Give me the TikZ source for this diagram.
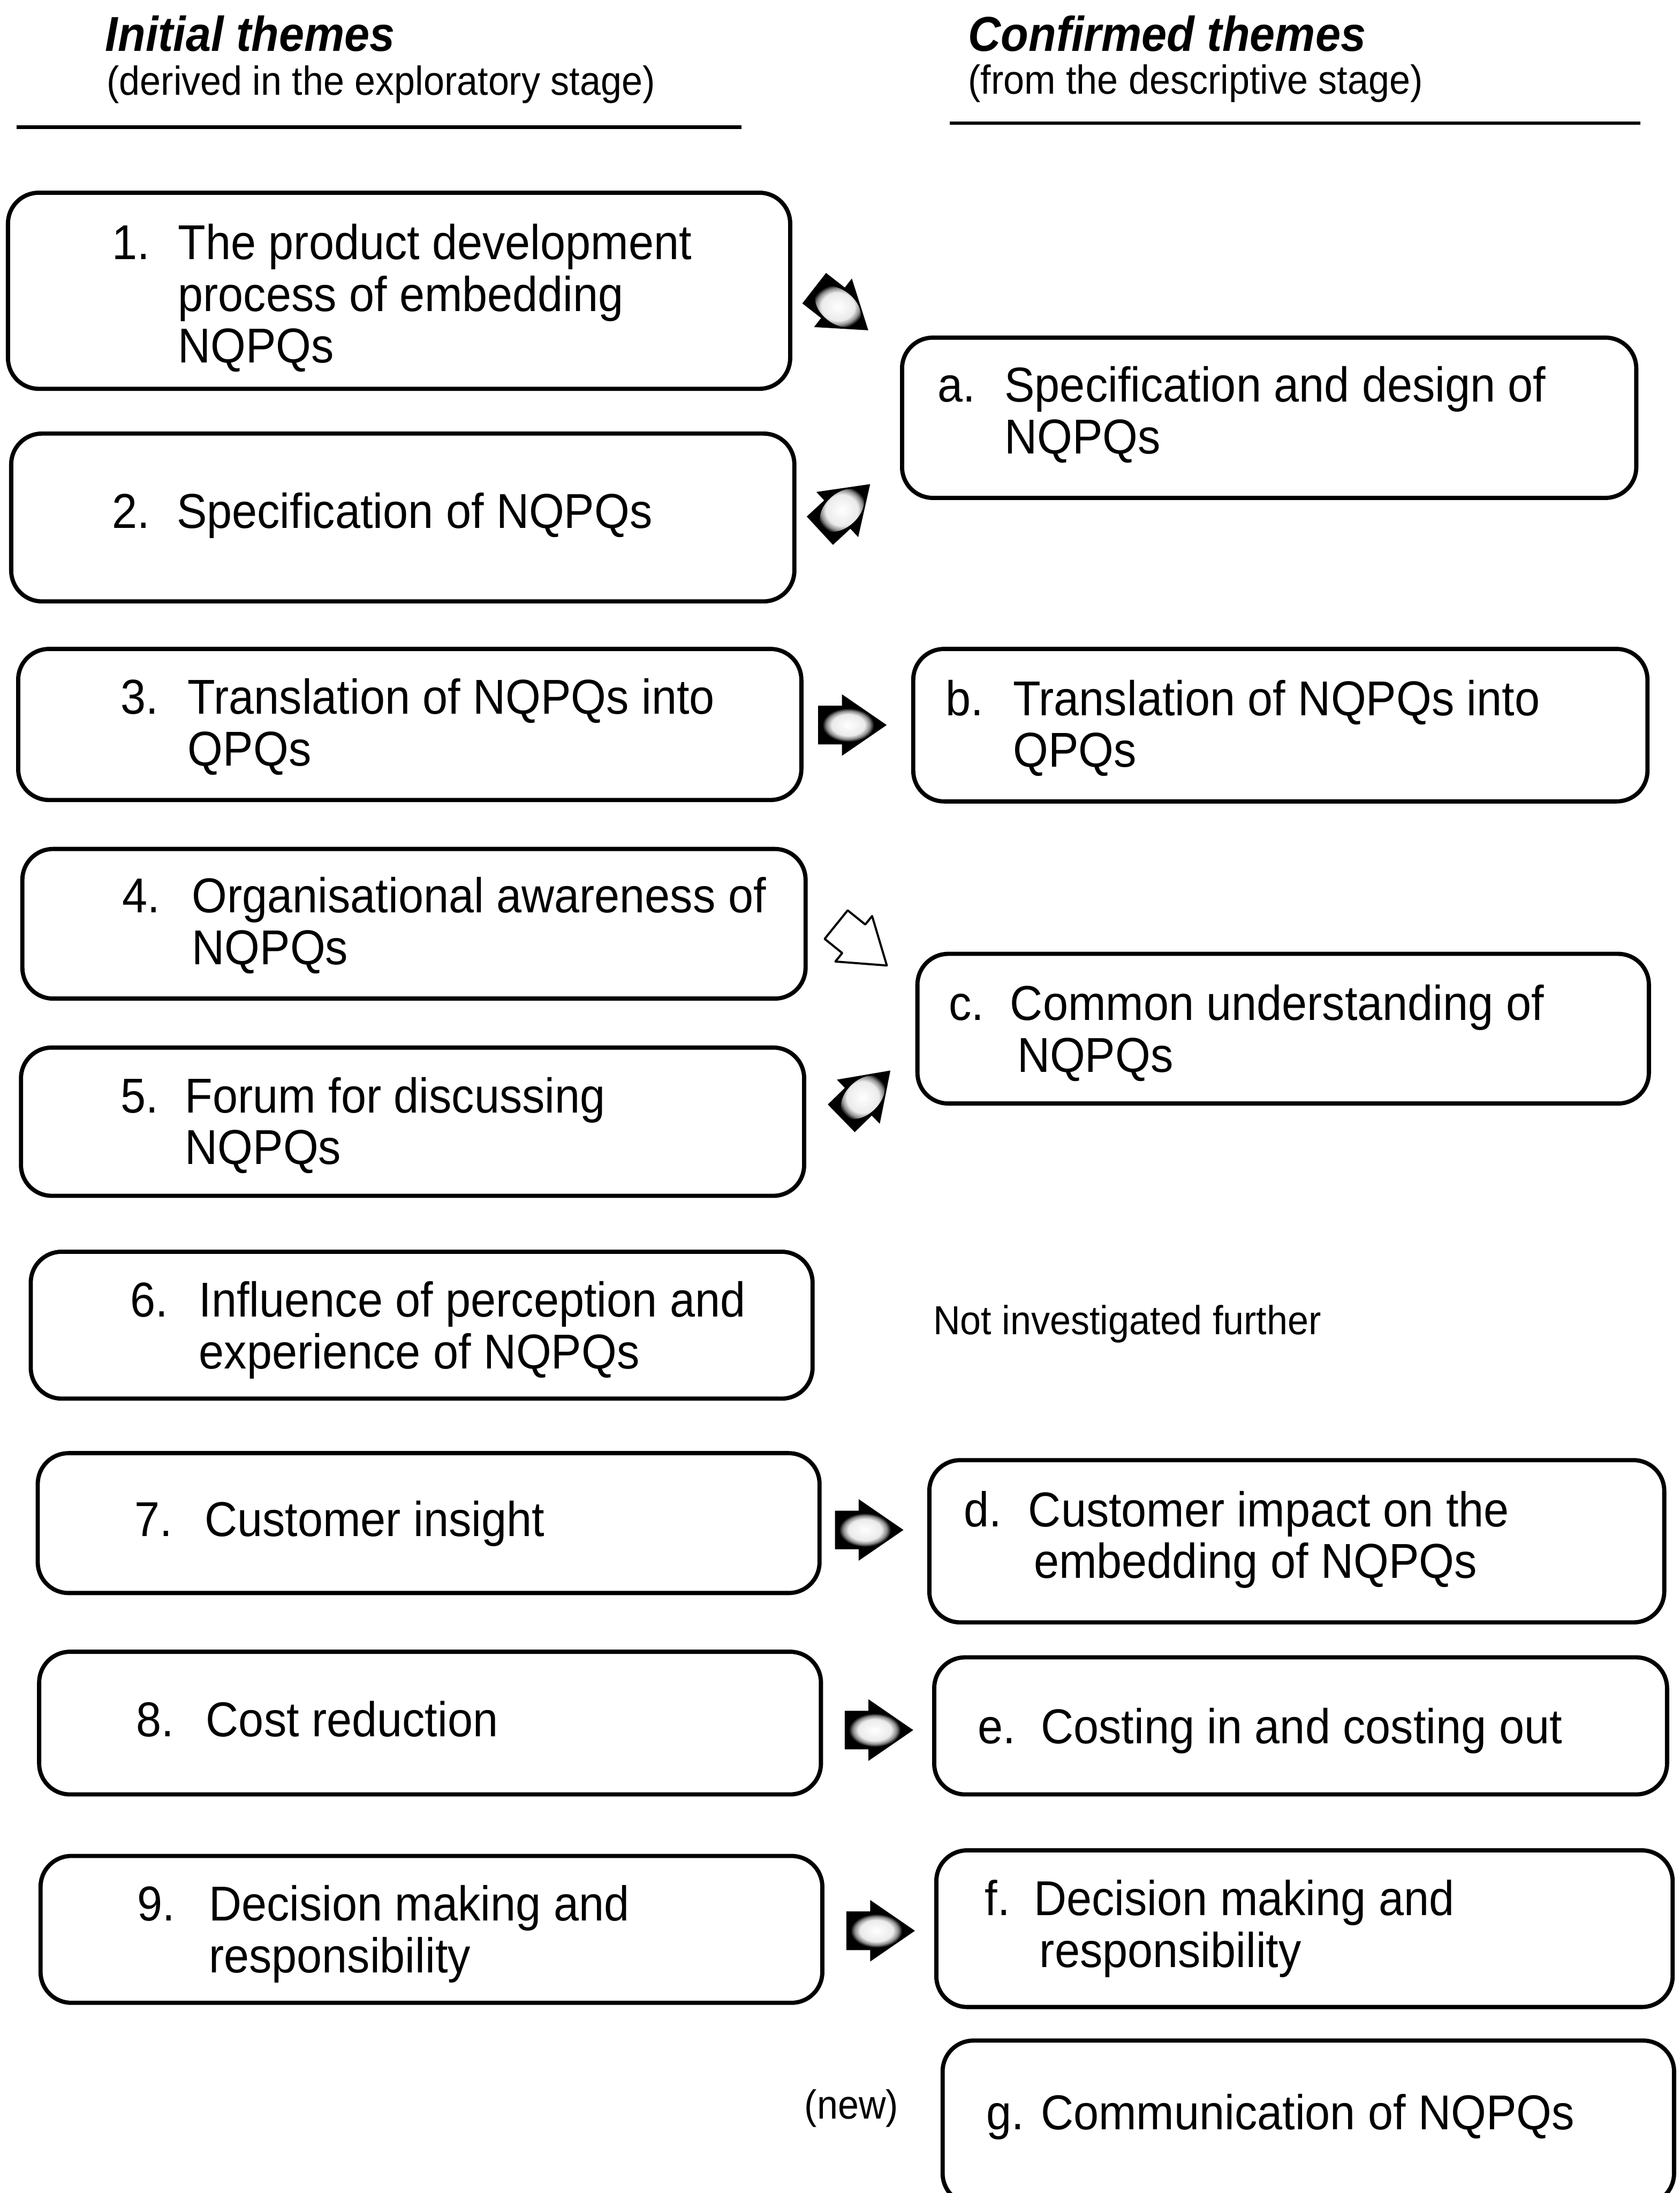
\documentclass[tikz,border=0pt]{standalone}
\usepackage{fontspec}
\setmainfont{Liberation Sans}[FakeStretch=0.925]
\usetikzlibrary{calc}

% light core fading into black, used inside the block arrows
% (the middle 50bp of a shading fills the shaded path)
\pgfdeclareradialshading{arrowglow}{\pgfpoint{0bp}{0bp}}{color(0bp)=(white); color(16bp)=(black!8); color(21bp)=(black!45); color(25bp)=(black); color(50bp)=(black)}

% rounded theme box given by its outline corners (x1,y1) (x2,y2)
\newcommand\themebox[5]{\node[tbox, minimum width={(#4-#2)*0.2mm}, minimum height={(#5-#3)*0.2mm}] (#1) at ({(#2+#4)/2},{(#3+#5)/2}) {};}
% several lines of text hanging from the first baseline
\newcommand\tlines[1]{\begin{tabular}[t]{@{}l@{}}#1\end{tabular}}

\tikzset{
  tbox/.style={draw=black, line width=0.6mm, rounded corners=4.4mm, inner sep=0pt},
  txt/.style={anchor=base west, inner sep=0pt, font=\fontsize{19.92pt}{21.06pt}\selectfont},
  note/.style={anchor=base west, inner sep=0pt, font=\fontsize{16.5pt}{19pt}\selectfont},
  head/.style={anchor=base west, inner sep=0pt, font=\fontsize{19.92pt}{21pt}\selectfont\bfseries\itshape},
  rule/.style={line width=0.5mm},
  arrowoutline/.style={insert path={(-24.5,-13.8) -- (-7.5,-13.8) -- (-7.5,-22) -- (24.5,0)
      -- (-7.5,22) -- (-7.5,13.8) -- (-24.5,13.8) -- cycle}},
  % dark block arrow with a pale core
  pics/blockarrow/.style={code={
    \fill[black, line join=round] [arrowoutline];
    \shade[shading=arrowglow] (-3,0) ellipse [x radius=18.5, y radius=12];}},
  % open block arrow drawn by its outline only
  pics/hollowarrow/.style={code={
    \filldraw[fill=white, draw=black, line width=0.3mm, line join=round] [arrowoutline];}},
}

\begin{document}
\begin{tikzpicture}[x=0.2mm, y=-0.2mm]
\useasboundingbox (0,0) rectangle (1201,1568);
\fill[white] (0,0) rectangle (1201,1568);
\clip (0,0) rectangle (1201,1568);

% column headings
\node[head] (hl) at (75,36.5) {Initial themes};
\node[note] (hls) at (76,68) {(derived in the exploratory stage)};
\draw[rule] (12,91) -- (530,91);
\node[head] (hr) at (692,36.5) {Confirmed themes};
\node[note] (hrs) at (692,67) {(from the descriptive stage)};
\draw[rule] (679,88) -- (1173,88);

% initial themes
\themebox{b1}{5.7}{137.8}{565}{278}
\themebox{b2}{8}{310}{568}{430}
\themebox{b3}{13}{464}{573}{572}
\themebox{b4}{16}{607}{576}{714}
\themebox{b5}{15}{749}{575}{855}
\themebox{b6}{22}{895}{581}{1000}
\themebox{b7}{27}{1039}{586}{1139}
\themebox{b8}{28}{1181}{587}{1283}
\themebox{b9}{29}{1327}{588}{1432}

\node[txt] (n1) at (80,185.5) {1.};
\node[txt] (t1) at (127,185.5) {\tlines{The product development\\process of embedding\\NQPQs}};
\node[txt] (n2) at (80,377.5) {2.};
\node[txt] (t2) at (126,377.5) {Specification of NQPQs};
\node[txt] (n3) at (86,510.5) {3.};
\node[txt] (t3) at (134,510.5) {\tlines{Translation of NQPQs into\\QPQs}};
\node[txt] (n4) at (87,652.5) {4.};
\node[txt] (t4) at (137,652.5) {\tlines{Organisational awareness of\\NQPQs}};
\node[txt] (n5) at (86,795.5) {5.};
\node[txt] (t5) at (132,795.5) {\tlines{Forum for discussing\\NQPQs}};
\node[txt] (n6) at (93,941.5) {6.};
\node[txt] (t6) at (142,941.5) {\tlines{Influence of perception and\\experience of NQPQs}};
\node[txt] (n7) at (96,1098.5) {7.};
\node[txt] (t7) at (146,1098.5) {Customer insight};
\node[txt] (n8) at (97,1241.5) {8.};
\node[txt] (t8) at (147,1241.5) {Cost reduction};
\node[txt] (n9) at (98,1373.5) {9.};
\node[txt] (t9) at (149,1373.5) {\tlines{Decision making and\\responsibility}};

% confirmed themes
\themebox{ba}{645}{241.4}{1170}{356}
\themebox{bb}{653}{464}{1178}{573}
\themebox{bc}{656}{682}{1179}{789}
\themebox{bd}{664.5}{1044}{1190}{1160}
\themebox{be}{668}{1185}{1192}{1283}
\themebox{bf}{669.5}{1323}{1196}{1435}
\themebox{bg}{674}{1459}{1197}{1576}

\node[txt] (na) at (670,287.4) {a.};
\node[txt] (ta) at (718,287.4) {\tlines{Specification and design of\\NQPQs}};
\node[txt] (nb) at (676,511.5) {b.};
\node[txt] (tb) at (724,511.5) {\tlines{Translation of NQPQs into\\QPQs}};
\node[txt] (nc) at (678,729.5) {c.};
\node[txt] (tc) at (722,729.5) {\tlines{Common understanding of\\\hspace*{1mm}NQPQs}};
\node[txt] (nd) at (689,1091.5) {d.};
\node[txt] (td) at (735,1091.5) {\tlines{Customer impact on the\\\hspace*{0.8mm}embedding of NQPQs}};
\node[txt] (ne) at (699,1246.5) {e.};
\node[txt] (te) at (744,1246.5) {Costing in and costing out};
\node[txt] (nf) at (704,1369.5) {f.};
\node[txt] (tf) at (739,1369.5) {\tlines{Decision making and\\\hspace*{0.8mm}responsibility}};
\node[txt] (tg) at (705,1522.5) {g. Communication of NQPQs};

% side remarks
\node[note] (skip) at (667,954) {Not investigated further};
\node[note] (new) at (575,1515) {(new)};

% block arrows from initial to confirmed themes
\pic[rotate=-37.9] (ar1) at (601.5,221.1) {blockarrow};
\pic[rotate=42.8] (ar2) at (604.2,362.8) {blockarrow};
\pic (ar3) at (609.5,518.4) {blockarrow};
\pic[rotate=-38.9, scale=0.95] (ar4) at (616,675.7) {hollowarrow};
\pic[rotate=44.2] (ar5) at (619.1,782.5) {blockarrow};
\pic (ar7) at (621.5,1093.9) {blockarrow};
\pic (ar8) at (628.5,1237) {blockarrow};
\pic (ar9) at (629.7,1380.5) {blockarrow};
\end{tikzpicture}
\end{document}
